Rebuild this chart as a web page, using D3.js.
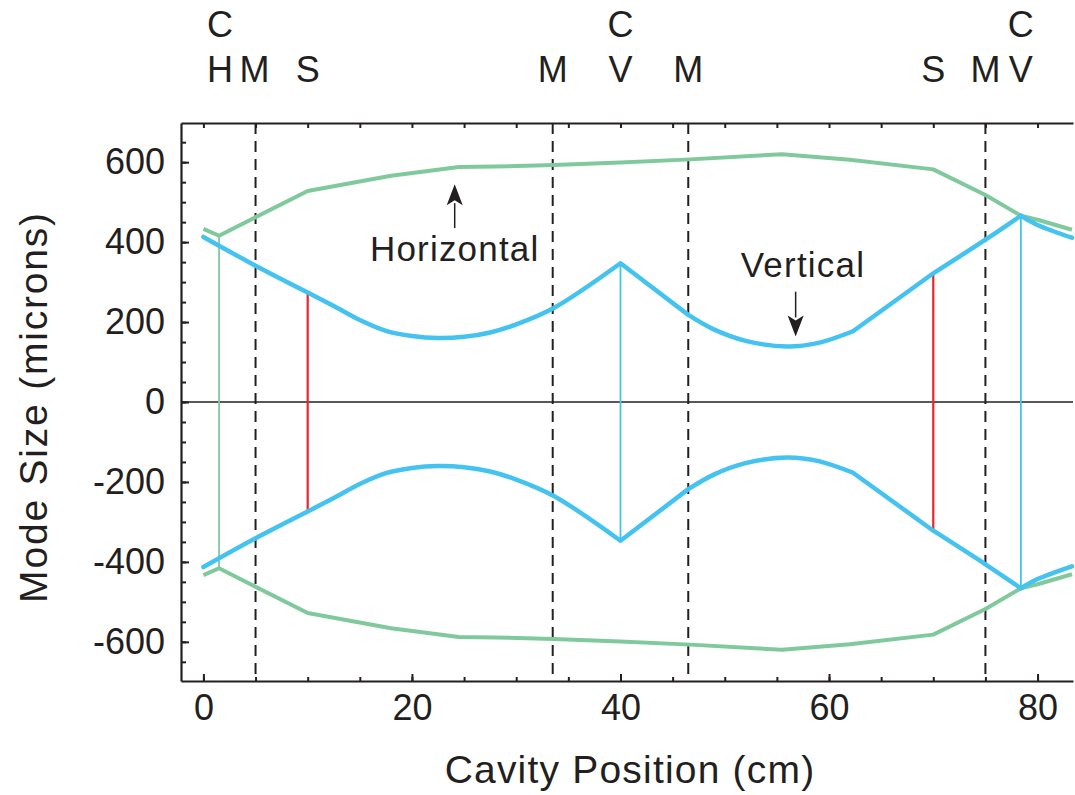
<!DOCTYPE html>
<html><head><meta charset="utf-8">
<script src="https://cdn.jsdelivr.net/npm/d3@7"></script>
<style>
html,body{margin:0;padding:0;background:#fff;}
svg text{font-family:"Liberation Sans",Arial,Helvetica,sans-serif;fill:#231f20;}
</style></head>
<body><svg id="chart" width="1075" height="795"></svg>
<script>
// ---- data ----
// horizontal mode radius (microns) vs cavity position (cm); plotted as +/- envelope
const horizontalX    = [0, 1.5, 10, 18, 24.5, 28, 33.6, 40, 46.7, 55.5, 62, 70, 75, 78.4, 80, 83.3];
const horizontalSize = [433, 416, 528, 566, 588, 589, 593, 599, 607, 620, 606, 582, 518, 466, 456, 431];
// vertical mode radius
const verticalX    = [0, 5, 10, 12.5, 15, 17.5, 20, 22.5, 25, 27.5, 30, 33.6, 40, 46.5, 49, 52, 56, 59, 62.3, 70, 75, 78.4, 80, 83.3];
const verticalSize = [413, 341, 274, 240, 205, 178, 165, 160, 163, 174, 194, 235, 347, 218, 181, 153, 139, 148, 177, 322, 406, 466, 443, 411];
// positions where the vertical curve has a kink (optical elements)
const verticalKinks = [10, 40, 46.5, 62.3, 70, 78.4];
// element markers (vertical connector lines)
const markerX    = [1.5, 10, 40, 70, 78.4];
const markerSize = [416, 274, 347, 322, 466];
const markerKind = ["curvedH", "lens", "curvedV", "lens", "curvedV"];
// dashed mirror positions
const mirrorX = [5, 33.5, 46.5, 75];
// top element labels
const topLabelX    = [1.6, 4.9, 10, 33.5, 40, 46.5, 70, 75, 78.4];
const topLabelRow1 = ["C", "", "", "", "C", "", "", "", "C"];
const topLabelRow2 = ["H", "M", "S", "M", "V", "M", "S", "M", "V"];
// axis ticks
const xMajorTicks = [0, 20, 40, 60, 80];
const xMinorTicks = d3.range(0, 85, 5);
const yMajorTicks = [-600, -400, -200, 0, 200, 400, 600];
const yMinorTicks = d3.range(-650, 651, 50);
// annotations
const annotText = ["Horizontal", "Vertical"];
const annotTextX = [24.1, 57.5];
const annotTextY = [352, 312];
const annotArrowX = [24.1, 56.8];
const annotArrowFrom = [435, 276];
const annotArrowTo = [545, 164];

// ---- layout ----
const svg = d3.select("#chart");
const L = 181, R = 1073, T = 123, B = 681;
const x = d3.scaleLinear().domain([-2.15, 83.4]).range([L, R]);
const y = d3.scaleLinear().domain([-698, 698]).range([B, T]);

const GREEN = "#80c99d", BLUE = "#45c3f0", RED = "#e8262f", INK = "#231f20";

// zero line
svg.append("line").attr("x1", L).attr("x2", R).attr("y1", y(0)).attr("y2", y(0))
  .attr("stroke", INK).attr("stroke-width", 1.6);

// dashed mirror lines
svg.selectAll("line.mirror").data(mirrorX).enter().append("line")
  .attr("class", "mirror")
  .attr("x1", d => x(d)).attr("x2", d => x(d)).attr("y1", T).attr("y2", B)
  .attr("stroke", INK).attr("stroke-width", 2).attr("stroke-dasharray", "11,7");

// connector lines
const kindColor = {curvedH: GREEN, lens: RED, curvedV: BLUE};
const kindWidth = {curvedH: 1.8, lens: 2.2, curvedV: 1.8};
svg.selectAll("line.marker").data(markerX).enter().append("line")
  .attr("class", "marker")
  .attr("x1", d => x(d)).attr("x2", d => x(d))
  .attr("y1", (d, i) => y(markerSize[i])).attr("y2", (d, i) => y(-markerSize[i]))
  .attr("stroke", (d, i) => kindColor[markerKind[i]])
  .attr("stroke-width", (d, i) => kindWidth[markerKind[i]]);

// curves
const line = d3.line().x(d => x(d[0])).y(d => y(d[1]));
const smooth = d3.line().x(d => x(d[0])).y(d => y(d[1])).curve(d3.curveCatmullRom.alpha(0.5));
function envelope(xs, vs, sign) { return xs.map((v, i) => [v, sign * vs[i]]); }
function splitAt(pts, kinks) {
  const segs = []; let cur = [];
  pts.forEach(p => {
    cur.push(p);
    if (kinks.includes(p[0])) { if (cur.length > 1) segs.push(cur); cur = [p]; }
  });
  if (cur.length > 1) segs.push(cur);
  return segs;
}
[1, -1].forEach(s => {
  svg.append("path").attr("d", line(envelope(horizontalX, horizontalSize, s)))
    .attr("fill", "none").attr("stroke", GREEN).attr("stroke-width", 4).attr("stroke-linejoin", "round");
});
[1, -1].forEach(s => {
  const segs = splitAt(envelope(verticalX, verticalSize, s), verticalKinks);
  const d = segs.map(seg => smooth(seg)).join("");
  svg.append("path").attr("d", d)
    .attr("fill", "none").attr("stroke", BLUE).attr("stroke-width", 4.5)
    .attr("stroke-linejoin", "round").attr("stroke-linecap", "round");
});

// axes
function styleAxis(g) {
  g.selectAll("path.domain").attr("stroke", INK).attr("stroke-width", 2.2);
  g.selectAll(".tick line").attr("stroke", INK).attr("stroke-width", 2);
  g.selectAll(".tick text").attr("font-size", 36).attr("fill", INK)
    .style("font-family", '"Liberation Sans", Arial, Helvetica, sans-serif');
}
// bottom
const gB = svg.append("g").attr("transform", `translate(0,${B})`)
  .call(d3.axisBottom(x).tickValues(xMinorTicks).tickFormat("").tickSizeInner(-4).tickSizeOuter(0));
styleAxis(gB);
const gB2 = svg.append("g").attr("transform", `translate(0,${B})`)
  .call(d3.axisBottom(x).tickValues(xMajorTicks).tickFormat(d3.format("d")).tickSizeInner(-7).tickSizeOuter(0).tickPadding(13));
styleAxis(gB2);
// top
const gT = svg.append("g").attr("transform", `translate(0,${T})`)
  .call(d3.axisTop(x).tickValues(xMinorTicks).tickFormat("").tickSizeInner(-5).tickSizeOuter(0));
styleAxis(gT);
// left
const gL = svg.append("g").attr("transform", `translate(${L},0)`)
  .call(d3.axisLeft(y).tickValues(yMinorTicks).tickFormat("").tickSizeInner(-5).tickSizeOuter(0));
styleAxis(gL);
const gL2 = svg.append("g").attr("transform", `translate(${L},0)`)
  .call(d3.axisLeft(y).tickValues(yMajorTicks).tickFormat(d => d < 0 ? "-" + Math.abs(d) : String(d))
    .tickSizeInner(-8).tickSizeOuter(0).tickPadding(16));
styleAxis(gL2);
gL2.select("path.domain").remove();
gB2.select("path.domain").remove();

// axis titles
svg.append("text").attr("x", 630).attr("y", 783).attr("text-anchor", "middle")
  .attr("font-size", 39).attr("letter-spacing", 1.2).text("Cavity Position (cm)");
svg.append("text").attr("transform", "translate(47,407) rotate(-90)").attr("text-anchor", "middle")
  .attr("font-size", 39).attr("letter-spacing", 1.8).text("Mode Size (microns)");

// top labels
svg.selectAll("text.row1").data(topLabelX).enter().append("text")
  .attr("class", "row1").attr("x", d => x(d)).attr("y", 37).attr("text-anchor", "middle")
  .attr("font-size", 36).text((d, i) => topLabelRow1[i]);
svg.selectAll("text.row2").data(topLabelX).enter().append("text")
  .attr("class", "row2").attr("x", d => x(d)).attr("y", 82).attr("text-anchor", "middle")
  .attr("font-size", 36).text((d, i) => topLabelRow2[i]);

// annotations
annotText.forEach((t, i) => {
  svg.append("text").attr("x", x(annotTextX[i])).attr("y", y(annotTextY[i]))
    .attr("text-anchor", "middle").attr("font-size", 35).attr("letter-spacing", 1.2).text(t);
  const ax = x(annotArrowX[i]), y0 = y(annotArrowFrom[i]), y1 = y(annotArrowTo[i]);
  const dir = y1 < y0 ? 1 : -1; // 1: pointing up
  const headLen = 19, headW = 8;
  const yb = y1 + dir * headLen;
  svg.append("line").attr("x1", ax).attr("x2", ax).attr("y1", y0).attr("y2", yb)
    .attr("stroke", INK).attr("stroke-width", 1.5);
  svg.append("path")
    .attr("d", `M${ax},${y1} L${ax - headW},${yb + dir * 2} L${ax},${yb - dir * 3} L${ax + headW},${yb + dir * 2} Z`)
    .attr("fill", INK);
});
</script>
</body></html>
